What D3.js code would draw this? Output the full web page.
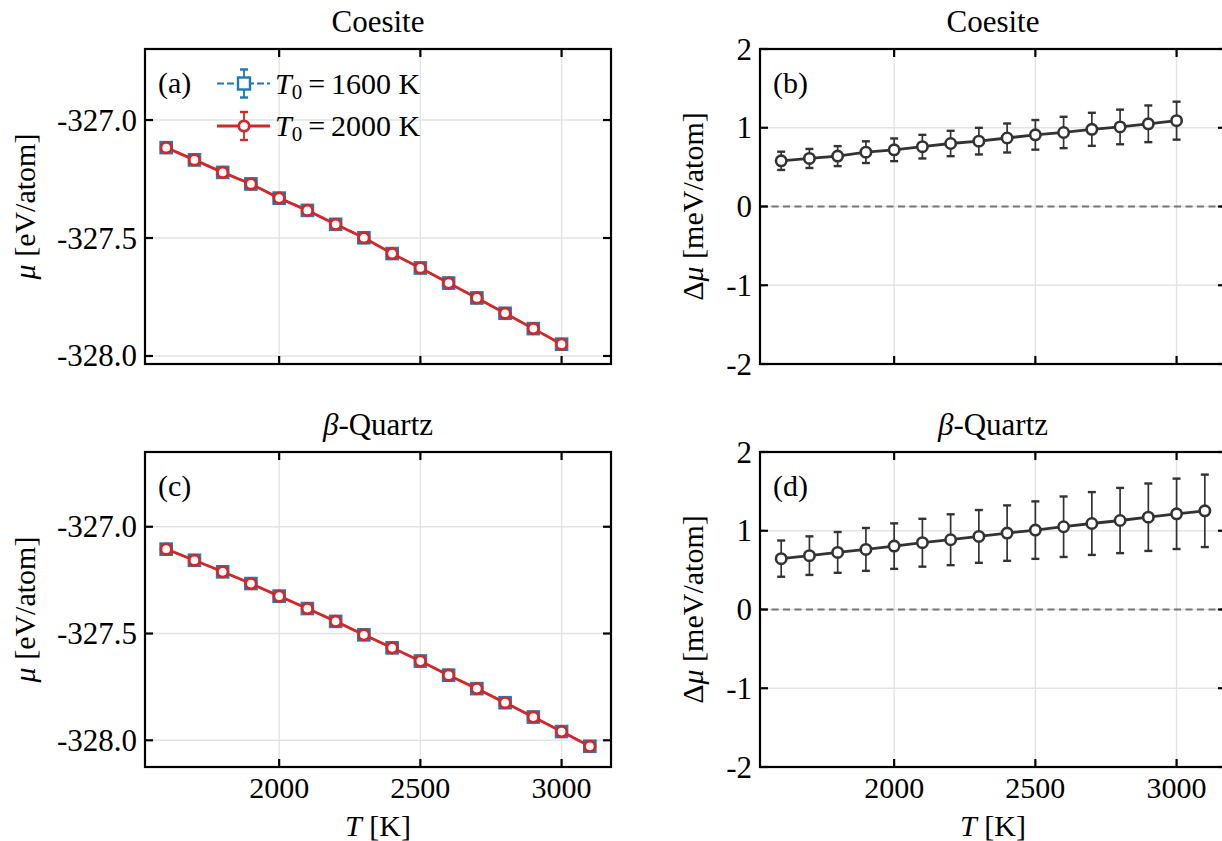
<!DOCTYPE html>
<html><head><meta charset="utf-8">
<script src="https://cdn.jsdelivr.net/npm/d3@7"></script>
<style>body{margin:0;background:#fff}svg{display:block}</style>
</head><body><svg id="c" width="1222" height="841" font-family="'Liberation Serif', 'Times New Roman', Times, 'DejaVu Serif', serif"></svg>
<script>
// ---------- data ----------
const tempsCoesite = [1600,1700,1800,1900,2000,2100,2200,2300,2400,2500,2600,2700,2800,2900,3000];
const tempsQuartz  = [1600,1700,1800,1900,2000,2100,2200,2300,2400,2500,2600,2700,2800,2900,3000,3100];
// chemical potential mu [eV/atom]
const muCoesiteT2000 = [-327.117,-327.169,-327.222,-327.271,-327.331,-327.383,-327.442,-327.499,-327.566,-327.627,-327.691,-327.754,-327.819,-327.884,-327.950];
const muCoesiteT1600 = [-327.117,-327.169,-327.222,-327.271,-327.331,-327.383,-327.442,-327.499,-327.566,-327.627,-327.691,-327.754,-327.819,-327.884,-327.950];
const muQuartzT2000  = [-327.105,-327.157,-327.211,-327.266,-327.325,-327.383,-327.443,-327.506,-327.567,-327.629,-327.695,-327.758,-327.824,-327.891,-327.959,-328.028];
const muQuartzT1600  = [-327.105,-327.157,-327.211,-327.266,-327.325,-327.383,-327.443,-327.506,-327.567,-327.629,-327.695,-327.758,-327.824,-327.891,-327.959,-328.028];
// difference delta mu [meV/atom] and its error
const dmuCoesite    = [0.58,0.61,0.64,0.69,0.72,0.76,0.80,0.83,0.87,0.91,0.94,0.98,1.01,1.05,1.09];
const dmuCoesiteErr = [0.116,0.121,0.127,0.138,0.144,0.150,0.161,0.169,0.184,0.188,0.199,0.210,0.220,0.233,0.241];
const dmuQuartz     = [0.646,0.684,0.725,0.763,0.805,0.848,0.886,0.928,0.970,1.008,1.051,1.092,1.130,1.172,1.215,1.253];
const dmuQuartzErr  = [0.230,0.245,0.259,0.272,0.289,0.304,0.323,0.335,0.352,0.365,0.384,0.399,0.414,0.428,0.447,0.460];
const xTicks = [2000,2500,3000];
const muTicks = [-327.0,-327.5,-328.0];
const dmuTicks = [2,1,0,-1,-2];
const legendLabels = ["1600 K","2000 K"];

// ---------- drawing ----------
const svg = d3.select("#c");
const FS = 30;
const blue = "#1f77b4", red = "#d62728", dark = "#333333";

function panel(o){
  const x = d3.scaleLinear().domain([1525,3175]).range([o.l,o.r]);
  const y = d3.scaleLinear().domain(o.ydom).range([o.b,o.t]);
  const g = svg.append("g");
  const clipId = "clip"+o.name;
  svg.append("clipPath").attr("id",clipId).append("rect").attr("x",o.l).attr("y",o.t-8).attr("width",o.r-o.l).attr("height",o.b-o.t+16);
  // grid
  g.selectAll(".gx").data(xTicks).join("line").attr("x1",d=>x(d)).attr("x2",d=>x(d)).attr("y1",o.t).attr("y2",o.b).attr("stroke","#e3e3e3").attr("stroke-width",1.4);
  g.selectAll(".gy").data(o.yticks).join("line").attr("x1",o.l).attr("x2",o.r).attr("y1",d=>y(d)).attr("y2",d=>y(d)).attr("stroke","#e3e3e3").attr("stroke-width",1.4);
  const pg = g.append("g").attr("clip-path",`url(#${clipId})`);
  o.draw(pg,x,y);
  // frame
  g.append("rect").attr("x",o.l).attr("y",o.t).attr("width",o.r-o.l).attr("height",o.b-o.t).attr("fill","none").attr("stroke","#000").attr("stroke-width",2.2);
  // inward ticks
  const tl = 8;
  xTicks.forEach(v=>{
    g.append("line").attr("x1",x(v)).attr("x2",x(v)).attr("y1",o.b).attr("y2",o.b-tl).attr("stroke","#000").attr("stroke-width",2.2);
    g.append("line").attr("x1",x(v)).attr("x2",x(v)).attr("y1",o.t).attr("y2",o.t+tl).attr("stroke","#000").attr("stroke-width",2.2);
  });
  o.yticks.forEach(v=>{
    g.append("line").attr("x1",o.l).attr("x2",o.l+tl).attr("y1",y(v)).attr("y2",y(v)).attr("stroke","#000").attr("stroke-width",2.2);
    g.append("line").attr("x1",o.r).attr("x2",o.r-tl).attr("y1",y(v)).attr("y2",y(v)).attr("stroke","#000").attr("stroke-width",2.2);
  });
  // y tick labels
  g.selectAll(".yl").data(o.yticks).join("text").attr("x",o.l-8).attr("y",d=>y(d)+10.5)
    .attr("text-anchor","end").attr("font-size",FS+1).text(o.yfmt);
  // x tick labels
  if(o.xlabels){
    g.selectAll(".xl").data(xTicks).join("text").attr("x",d=>x(d)).attr("y",o.b+31)
      .attr("text-anchor","middle").attr("font-size",FS).text(d=>d);
    const t = g.append("text").attr("x",(o.l+o.r)/2).attr("y",o.b+69).attr("text-anchor","middle").attr("font-size",FS);
    t.append("tspan").attr("font-style","italic").text("T");
    t.append("tspan").text(" [K]");
  }
  // title
  g.append("text").attr("x",(o.l+o.r)/2).attr("y",o.t-17).attr("text-anchor","middle").attr("font-size",FS+1).html(o.title);
  // panel label
  g.append("text").attr("x",o.l+13).attr("y",o.t+44).attr("font-size",FS).text(o.label);
  // y label
  const yl = g.append("text").attr("transform",`translate(${o.ylx},${(o.t+o.b)/2}) rotate(-90)`).attr("text-anchor","middle").attr("font-size",FS);
  o.ylab(yl);
  return {x,y,g};
}

function muSeries(pg,x,y,temps,v1600,v2000){
  const line = d3.line().x((d,i)=>x(temps[i])).y(d=>y(d));
  pg.append("path").datum(v1600).attr("d",line).attr("fill","none").attr("stroke",blue).attr("stroke-width",2.2).attr("stroke-dasharray","7,3");
  pg.selectAll(".sq").data(v1600).join("rect").attr("x",(d,i)=>x(temps[i])-6.3).attr("y",d=>y(d)-6.3).attr("width",12.6).attr("height",12.6)
    .attr("fill",blue).attr("stroke",blue).attr("stroke-width",1);
  pg.append("path").datum(v2000).attr("d",line).attr("fill","none").attr("stroke",red).attr("stroke-width",2.8);
  pg.selectAll(".ci").data(v2000).join("circle").attr("cx",(d,i)=>x(temps[i])).attr("cy",d=>y(d)).attr("r",5.2)
    .attr("fill","#fff").attr("stroke",red).attr("stroke-width",2.7);
}

function dmuSeries(pg,x,y,temps,vals,errs){
  pg.append("line").attr("x1",x.range()[0]).attr("x2",x.range()[1]).attr("y1",y(0)).attr("y2",y(0))
    .attr("stroke","#777").attr("stroke-width",1.8).attr("stroke-dasharray","7,4.5");
  vals.forEach((v,i)=>{
    const cx = x(temps[i]);
    pg.append("line").attr("x1",cx).attr("x2",cx).attr("y1",y(v-errs[i])).attr("y2",y(v+errs[i])).attr("stroke",dark).attr("stroke-width",1.7);
    [v-errs[i],v+errs[i]].forEach(e=>pg.append("line").attr("x1",cx-4).attr("x2",cx+4).attr("y1",y(e)).attr("y2",y(e)).attr("stroke",dark).attr("stroke-width",2.4));
  });
  const line = d3.line().x((d,i)=>x(temps[i])).y(d=>y(d));
  pg.append("path").datum(vals).attr("d",line).attr("fill","none").attr("stroke",dark).attr("stroke-width",2.8);
  pg.selectAll(".ci").data(vals).join("circle").attr("cx",(d,i)=>x(temps[i])).attr("cy",d=>y(d)).attr("r",5.2)
    .attr("fill","#fff").attr("stroke",dark).attr("stroke-width",2.6);
}

const muLab = t=>{ t.append("tspan").attr("font-style","italic").text("μ"); t.append("tspan").text(" [eV/atom]"); };
const dmuLab = t=>{ t.append("tspan").text("Δ"); t.append("tspan").attr("font-style","italic").text("μ"); t.append("tspan").text(" [meV/atom]"); };
const fmtMu = d=>d3.format(".1f")(d).replace("−","-");
const fmtD = d=>String(d);
const quartzTitle = '<tspan font-style="italic">β</tspan>-Quartz';

panel({name:"a",l:145,r:611,t:49,b:364,ydom:[-328.034,-326.699],yticks:muTicks,yfmt:fmtMu,xlabels:false,
  title:"Coesite",label:"(a)",ylx:35,ylab:muLab,
  draw:(pg,x,y)=>muSeries(pg,x,y,tempsCoesite,muCoesiteT1600,muCoesiteT2000)});
panel({name:"b",l:760,r:1226,t:49,b:364,ydom:[-2,2],yticks:dmuTicks,yfmt:fmtD,xlabels:false,
  title:"Coesite",label:"(b)",ylx:703,ylab:dmuLab,
  draw:(pg,x,y)=>dmuSeries(pg,x,y,tempsCoesite,dmuCoesite,dmuCoesiteErr)});
panel({name:"c",l:145,r:611,t:452,b:767,ydom:[-328.125,-326.650],yticks:muTicks,yfmt:fmtMu,xlabels:true,
  title:quartzTitle,label:"(c)",ylx:35,ylab:muLab,
  draw:(pg,x,y)=>muSeries(pg,x,y,tempsQuartz,muQuartzT1600,muQuartzT2000)});
panel({name:"d",l:760,r:1226,t:452,b:767,ydom:[-2,2],yticks:dmuTicks,yfmt:fmtD,xlabels:true,
  title:quartzTitle,label:"(d)",ylx:703,ylab:dmuLab,
  draw:(pg,x,y)=>dmuSeries(pg,x,y,tempsQuartz,dmuQuartz,dmuQuartzErr)});

// legend in panel (a)
const lg = svg.append("g");
const rows = [{y:83.5,c:blue,dash:"7,3",sq:true,lab:legendLabels[0]},{y:126,c:red,dash:null,sq:false,lab:legendLabels[1]}];
rows.forEach(r=>{
  const ln = lg.append("line").attr("x1",217).attr("x2",270).attr("y1",r.y).attr("y2",r.y).attr("stroke",r.c).attr("stroke-width",r.sq?2.2:2.8);
  if(r.dash) ln.attr("stroke-dasharray",r.dash);
  lg.append("line").attr("x1",244).attr("x2",244).attr("y1",r.y-14).attr("y2",r.y+14).attr("stroke",r.c).attr("stroke-width",1.8);
  [r.y-14,r.y+14].forEach(e=>lg.append("line").attr("x1",240).attr("x2",248).attr("y1",e).attr("y2",e).attr("stroke",r.c).attr("stroke-width",2.4));
  if(r.sq) lg.append("rect").attr("x",238).attr("y",r.y-6).attr("width",12).attr("height",12).attr("fill","#fff").attr("stroke",r.c).attr("stroke-width",2.4);
  else lg.append("circle").attr("cx",244).attr("cy",r.y).attr("r",5.2).attr("fill","#fff").attr("stroke",r.c).attr("stroke-width",2.7);
  const t = lg.append("text").attr("x",275).attr("y",r.y+10).attr("font-size",FS);
  t.append("tspan").attr("font-style","italic").text("T");
  t.append("tspan").attr("font-size",21).attr("dy",5).text("0");
  t.append("tspan").attr("dy",-5).text("\u2009=\u2009" + r.lab);
});
</script></body></html>
